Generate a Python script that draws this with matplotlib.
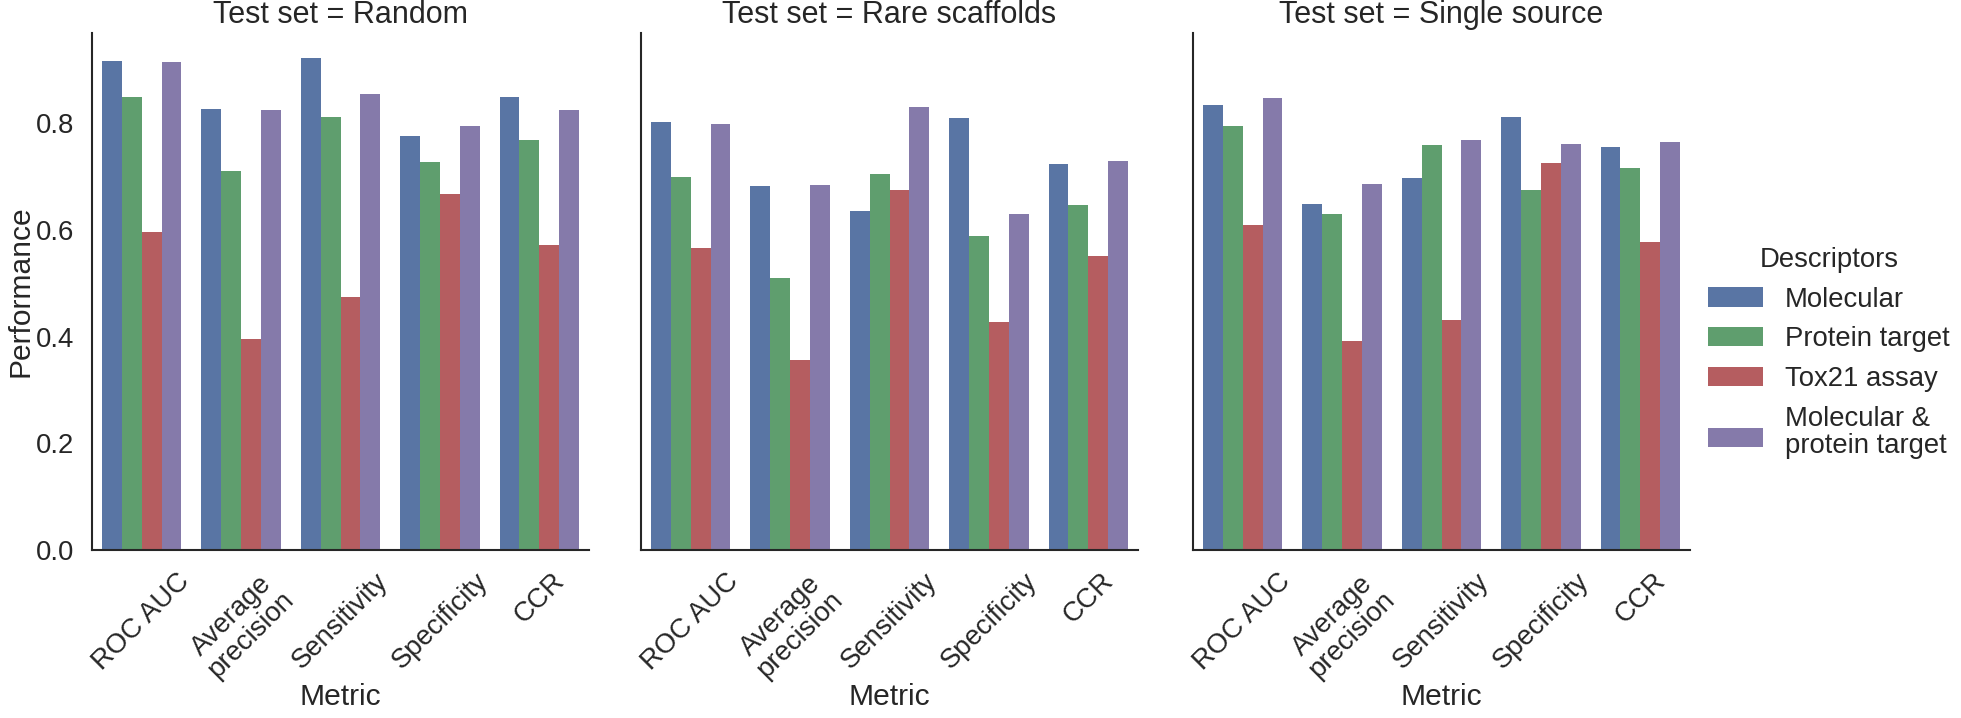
import colorsys
import matplotlib
matplotlib.use("Agg")
import matplotlib.pyplot as plt
import matplotlib.colors as mcolors
from matplotlib.legend_handler import HandlerPatch
from matplotlib.patches import Rectangle
import numpy as np

test_sets = ["Random", "Rare scaffolds", "Single source"]
metrics = ["ROC AUC", "Average\nprecision", "Sensitivity", "Specificity", "CCR"]
descriptors = ["Molecular", "Protein target", "Tox21 assay", "Molecular &\nprotein target"]

# rows = descriptors, columns = metrics
random_vals = [
    [0.917, 0.827, 0.923, 0.777, 0.849],
    [0.849, 0.710, 0.811, 0.727, 0.769],
    [0.596, 0.395, 0.474, 0.668, 0.571],
    [0.914, 0.824, 0.854, 0.795, 0.824],
]
rare_vals = [
    [0.803, 0.682, 0.635, 0.810, 0.723],
    [0.699, 0.509, 0.705, 0.588, 0.646],
    [0.566, 0.357, 0.674, 0.428, 0.551],
    [0.799, 0.684, 0.831, 0.629, 0.729],
]
single_vals = [
    [0.835, 0.648, 0.698, 0.811, 0.755],
    [0.795, 0.630, 0.759, 0.674, 0.716],
    [0.610, 0.391, 0.431, 0.726, 0.578],
    [0.847, 0.686, 0.768, 0.762, 0.765],
]
all_vals = [random_vals, rare_vals, single_vals]

base_colors = ["#4C72B0", "#55A868", "#C44E52", "#8172B2"]


def desaturate(c, prop=0.75):
    h, l, s = colorsys.rgb_to_hls(*mcolors.to_rgb(c))
    return colorsys.hls_to_rgb(h, l, s * prop)


def lowered_patch(legend, orig_handle, xdescent, ydescent, width, height, fontsize):
    # the two-line entry has its swatch sitting a bit lower, next to the 2nd line
    return Rectangle((-xdescent, -ydescent - 3.5), width, height)


def from_first_bar(legend_handle, orig_handle):
    legend_handle.update_from(orig_handle.patches[0])


colors = [desaturate(c) for c in base_colors]

plt.rcParams["font.family"] = ["Liberation Sans", "DejaVu Sans"]
plt.rcParams["text.color"] = "0.15"
plt.rcParams["axes.labelcolor"] = "0.15"
plt.rcParams["xtick.color"] = "0.15"
plt.rcParams["ytick.color"] = "0.15"

W, H = 1961, 718
fig = plt.figure(figsize=(W / 100, H / 100), dpi=100)

lefts = [92, 641, 1193]
ax_w, ax_top, ax_bot = 497, 33, 550

axes = []
for k, (name, vals) in enumerate(zip(test_sets, all_vals)):
    rect = [lefts[k] / W, 1 - ax_bot / H, ax_w / W, (ax_bot - ax_top) / H]
    if k == 0:
        ax = fig.add_axes(rect)
    else:
        ax = fig.add_axes(rect, sharey=axes[0])
    axes.append(ax)
    x = np.arange(len(metrics))
    for j, desc in enumerate(descriptors):
        ax.bar(x + (j - 1.5) * 0.2, vals[j], width=0.2, color=colors[j],
               linewidth=0, label=desc)
    ax.set_xlim(-0.5, len(metrics) - 0.5)
    ax.set_xticks(x)
    ax.set_xticklabels(metrics, rotation=45, fontsize=19.8, linespacing=1.05)
    ax.set_title(f"Test set = {name}", fontsize=22, pad=7)
    ax.set_xlabel("Metric", fontsize=21.6)
    ax.xaxis.set_label_coords(0.5, -0.258)
    ax.tick_params(axis="both", length=0, pad=13, labelsize=19.8)
    for side in ["top", "right"]:
        ax.spines[side].set_visible(False)
    for side in ["left", "bottom"]:
        ax.spines[side].set_color("0.15")
        ax.spines[side].set_linewidth(1.5)
    if k > 0:
        plt.setp(ax.get_yticklabels(), visible=False)

axes[0].set_yticks([0.0, 0.2, 0.4, 0.6, 0.8])
axes[0].set_ylabel("Performance", fontsize=21.6)
axes[0].yaxis.set_label_coords(-0.115, 0.5)

handles, labels = axes[0].get_legend_handles_labels()
leg = fig.legend(handles, labels, title="Descriptors", loc="upper left",
                 bbox_to_anchor=(1697 / W, 1 - 236 / H), borderaxespad=0,
                 frameon=False, fontsize=19.8, title_fontsize=19.8,
                 labelspacing=0.5, handlelength=2.0, handletextpad=0.8,
                 handler_map={handles[3]: HandlerPatch(patch_func=lowered_patch,
                                                       update_func=from_first_bar)})
for t in leg.get_texts():
    t.set_linespacing(1.05)

fig.savefig("out.png", dpi=100)
